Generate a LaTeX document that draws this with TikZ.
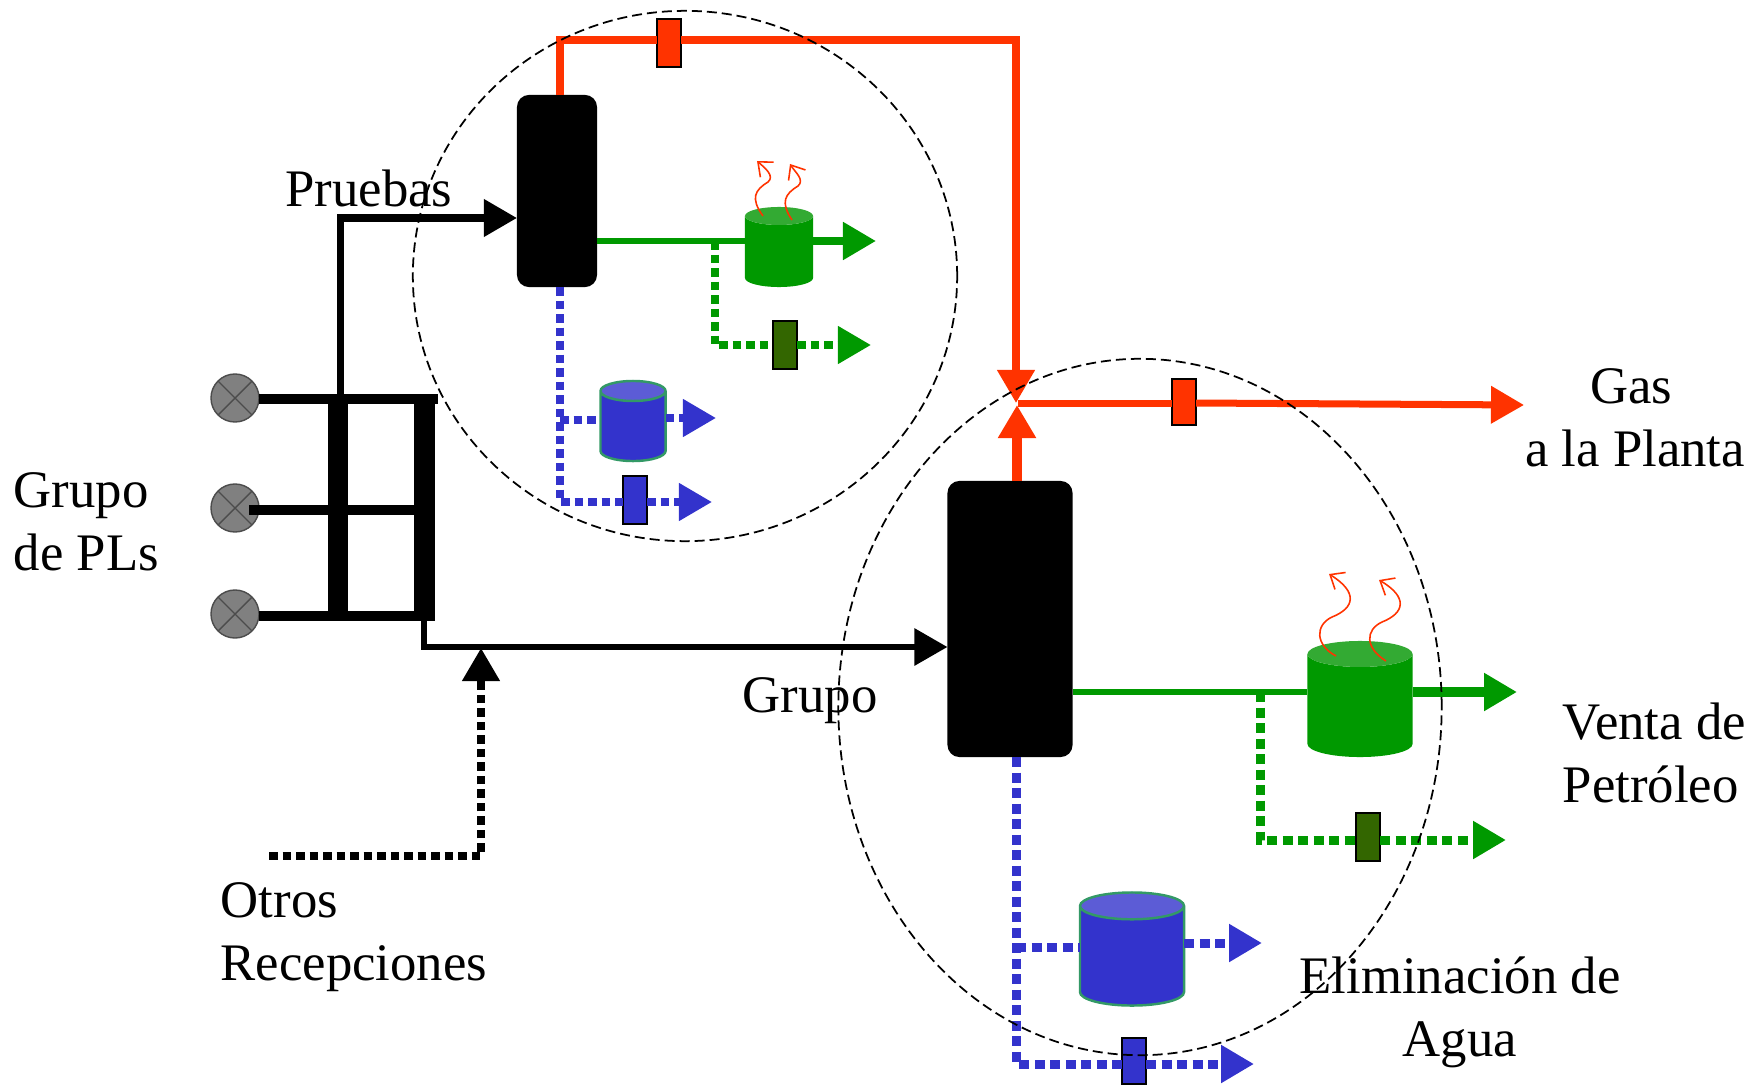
\documentclass[tikz,border=0pt]{standalone}
\usepackage{fontspec}
\setmainfont{Liberation Serif}
\usetikzlibrary{shapes.geometric,arrows.meta,positioning}
\definecolor{rojo}{RGB}{255,51,0}
\definecolor{verde}{RGB}{0,153,0}
\definecolor{verdeclaro}{RGB}{51,170,51}
\definecolor{verdeosc}{RGB}{51,102,0}
\definecolor{azul}{RGB}{51,51,204}
\definecolor{azulclaro}{RGB}{92,92,214}
\definecolor{borde}{RGB}{51,153,102}
\begin{document}
\begin{tikzpicture}[x=0.01cm,y=-0.01cm]
\tikzstyle{torre}=[rectangle,rounded corners=0.12cm,fill=black,inner sep=0pt,outer sep=0pt]
\tikzstyle{valvula}=[rectangle,draw=black,line width=0.7pt,inner sep=0pt,outer sep=0pt]
\tikzstyle{pozo}=[circle,draw=black!70,fill=black!50,line width=0.4pt,minimum size=0.48cm,inner sep=0pt,outer sep=0pt,
path picture={\draw[line width=0.4pt] (path picture bounding box.north west) -- (path picture bounding box.south east)
(path picture bounding box.north east) -- (path picture bounding box.south west);}]
\tikzstyle{tanque}=[cylinder,anchor=shape center,shape border rotate=90,cylinder uses custom fill,outer sep=0pt]
\tikzstyle{texto}=[font=\fontsize{15}{17.9}\selectfont,inner sep=0pt]
\tikzstyle{punta}=[-{Triangle[length=0.33cm,width=0.36cm]}]
\tikzstyle{punteada}=[line width=0.075cm,dash pattern=on 0.085cm off 0.05cm]
\tikzstyle{punteadab}=[line width=0.09cm,dash pattern=on 0.1cm off 0.055cm]
\tikzstyle{calor}=[draw=rojo,line width=0.45pt,-{Straight Barb[length=0.12cm,width=0.2cm]}]
\tikzstyle{grupo}=[ellipse,draw=black,line width=0.5pt,dash pattern=on 0.1cm off 0.05cm,inner sep=0pt]
\useasboundingbox (0,0) rectangle (1755,1085);

\node[torre,minimum width=0.8cm,minimum height=1.92cm] at (557,191) (torre1) {};
\node[torre,minimum width=1.25cm,minimum height=2.76cm] at (1010,619) (torre2) {};

\node[valvula,fill=rojo,minimum width=0.24cm,minimum height=0.48cm] at (669,43) (vgas1) {};
\node[valvula,fill=rojo,minimum width=0.24cm,minimum height=0.46cm] at (1184,402) (vgas2) {};
\node[valvula,fill=verdeosc,minimum width=0.24cm,minimum height=0.48cm] at (785,345) (vcru1) {};
\node[valvula,fill=verdeosc,minimum width=0.24cm,minimum height=0.48cm] at (1368,837) (vcru2) {};
\node[valvula,fill=azul,minimum width=0.24cm,minimum height=0.48cm] at (635,500) (vagua1) {};
\node[valvula,fill=azul,minimum width=0.24cm,minimum height=0.46cm] at (1134,1061) (vagua2) {};

\node[tanque,inner sep=0.1cm,cylinder body fill=verde,cylinder end fill=verdeclaro,minimum width=0.68cm,minimum height=0.8cm,shape aspect=0.9] at (779,247) (tcru1) {};
\node[tanque,inner sep=0.2cm,cylinder body fill=verde,cylinder end fill=verdeclaro,minimum width=1.05cm,minimum height=1.16cm,shape aspect=0.65] at (1360,699) (tcru2) {};
\node[tanque,inner sep=0.1cm,draw=borde,line width=0.7pt,cylinder body fill=azul,cylinder end fill=azulclaro,minimum width=0.65cm,minimum height=0.8cm,shape aspect=1] at (633,421) (tagua1) {};
\node[tanque,inner sep=0.2cm,draw=borde,line width=0.7pt,cylinder body fill=azul,cylinder end fill=azulclaro,minimum width=1.04cm,minimum height=1.13cm,shape aspect=0.67] at (1132,949) (tagua2) {};

\node[pozo] at (235,398) (pozo1) {};
\node[pozo] at (235,508) (pozo2) {};
\node[pozo] at (235,614) (pozo3) {};

\coordinate (a) at (560,40);
\coordinate (b) at (1016,40);
\coordinate (c) at (1016,403);
\coordinate (d) at (1018,403);
\coordinate (e) at (1524,405);
\coordinate (f) at (1017,405);
\coordinate (g) at (340,218);
\coordinate (h) at (340,396);
\coordinate (i) at (424,399);
\coordinate (i2) at (438,399);
\coordinate (j) at (338,399);
\coordinate (k) at (424,616);
\coordinate (k2) at (424,621);
\coordinate (l) at (338,616);
\coordinate (m) at (424,647);
\coordinate (n) at (269,856);
\coordinate (o) at (481,856);
\coordinate (p) at (481,648);
\coordinate (q) at (715,241);
\coordinate (r) at (715,345);
\coordinate (s) at (871,345);
\coordinate (t) at (876,241);
\coordinate (u) at (560,420);
\coordinate (v) at (560,502);
\coordinate (w) at (716,418);
\coordinate (x) at (712,502);
\coordinate (y) at (1260,692);
\coordinate (z) at (1260,840);
\coordinate (aa) at (1506,840);
\coordinate (ab) at (1517,692);
\coordinate (ac) at (1016,947);
\coordinate (ad) at (1016,1064);
\coordinate (ae) at (1262,943);
\coordinate (af) at (1254,1064);
\coordinate (pz) at (249,510);

\draw[rojo,line width=0.075cm] (a |- torre1.north) -- (a) -- (a -| vgas1.west);
\draw[rojo,line width=0.075cm,punta] (a -| vgas1.east) -- (b) -- (c);
\draw[rojo,line width=0.1cm,punta] (f |- torre2.north) -- (f);
\draw[rojo,line width=0.07cm] (d) -- (d -| vgas2.west);
\draw[rojo,line width=0.07cm,punta] (d -| vgas2.east) -- (e);

\draw[line width=0.07cm,punta] (h) -- (g) -- (torre1.west |- g);
\draw[line width=0.1cm] (i2 -| pozo1.east) -- (i2);
\draw[line width=0.1cm] (pz) -- (i |- pz);
\draw[line width=0.1cm] (k -| pozo3.east) -- (k);
\draw[line width=0.2cm] (j) -- (l);
\draw[line width=0.21cm] (i) -- (k2);
\draw[line width=0.06cm,punta] (k) -- (m) -- (torre2.west |- m);
\draw[punteada,punta] (n) -- (o) -- (p);

\draw[verde,line width=0.05cm] (q -| torre1.east) -- (q -| tcru1.west);
\draw[verde,line width=0.08cm,punta] (q -| tcru1.east) -- (t);
\draw[verde,punteada] (q) -- (r) -- (r -| vcru1.west);
\draw[verde,punteada,punta] (r -| vcru1.east) -- (s);

\draw[azul,punteada] (a |- torre1.south) -- (u) -- (v) -- (v -| vagua1.west);
\draw[azul,punteada,punta] (v -| vagua1.east) -- (x);
\draw[azul,punteada] (u) -- (u -| tagua1.west);
\draw[azul,punteada,punta] (w -| tagua1.east) -- (w);

\draw[verde,line width=0.065cm] (y -| torre2.east) -- (y -| tcru2.west);
\draw[verde,line width=0.1cm,punta] (y -| tcru2.east) -- (ab);
\draw[verde,punteadab] (y) -- (z) -- (z -| vcru2.west);
\draw[verde,punteadab,punta] (z -| vcru2.east) -- (aa);

\draw[azul,punteadab] (ac |- torre2.south) -- (ac) -- (ad) -- (ad -| vagua2.west);
\draw[azul,punteadab,punta] (ad -| vagua2.east) -- (af);
\draw[azul,punteadab] (ac) -- (ac -| tagua2.west);
\draw[azul,punteadab,punta] (ae -| tagua2.east) -- (ae);

\draw[calor] (763,216) .. controls (750,198) and (755,190) .. (768,182) .. controls (775,176) and (765,168) .. (757,161);
\draw[calor] (792,220) .. controls (780,202) and (785,194) .. (798,186) .. controls (805,180) and (795,172) .. (790,164);
\draw[calor] (1336,656) .. controls (1315,645) and (1315,625) .. (1332,617) .. controls (1355,608) and (1358,592) .. (1329,574);
\draw[calor] (1386,661) .. controls (1365,648) and (1365,630) .. (1382,622) .. controls (1405,613) and (1408,597) .. (1379,580);

\node[grupo,minimum width=5.44cm,minimum height=5.3cm] at (685,276) (sep1) {};
\node[grupo,minimum width=6.03cm,minimum height=6.96cm] at (1140,707) (sep2) {};

\node[texto,align=left,anchor=west] at (13,522) (tgrupo) {Grupo\\de PLs};
\node[texto] at (369,188) (tpruebas) {Pruebas};
\node[texto] at (810,701) (tgrupo2) {Grupo};
\node[texto,align=left,anchor=west] at (220,937) (totros) {Otros\\Recepciones};
\node[texto,align=center] at (1635,418) (tgas) {Gas\hspace*{0.08cm}\\a la Planta};
\node[texto,align=left,anchor=west] at (1562,753) (tventa) {Venta de\\Petróleo};
\node[texto,align=center] at (1460,1012) (tagua) {Eliminación de\\Agua};
\end{tikzpicture}
\end{document}
